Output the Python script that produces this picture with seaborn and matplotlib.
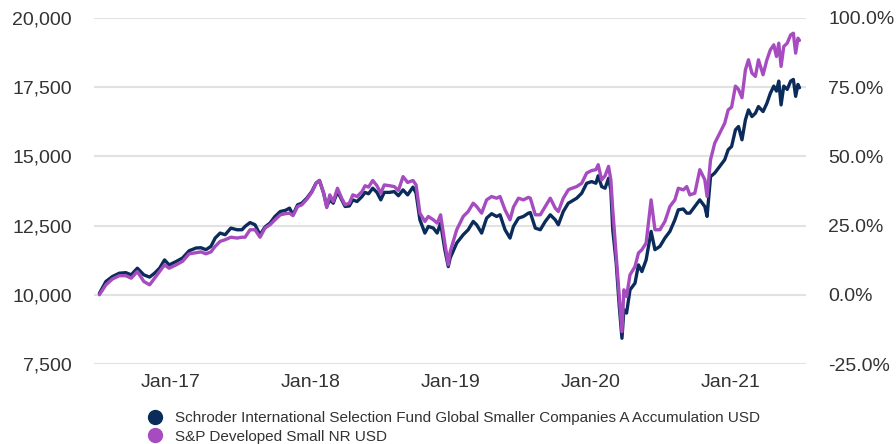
import pandas as pd
import matplotlib
matplotlib.use("Agg")
import matplotlib.pyplot as plt
import matplotlib.dates as mdates
from matplotlib.lines import Line2D
from matplotlib.ticker import FuncFormatter
import seaborn as sns

# =========================
# DATA (growth of 10,000)
# =========================
dates = [
    "2016-06-30", "2016-07-17", "2016-08-03", "2016-08-21", "2016-09-07", "2016-09-21",
    "2016-10-07", "2016-10-24", "2016-11-08", "2016-11-21", "2016-12-04", "2016-12-17",
    "2016-12-29", "2017-01-16", "2017-02-02", "2017-02-19", "2017-03-09", "2017-03-22",
    "2017-04-04", "2017-04-17", "2017-04-28", "2017-05-11", "2017-05-24", "2017-06-08",
    "2017-06-24", "2017-07-07", "2017-07-15", "2017-07-28", "2017-08-10", "2017-08-23",
    "2017-09-05", "2017-09-18", "2017-10-01", "2017-10-15", "2017-10-28", "2017-11-08",
    "2017-11-17", "2017-11-29", "2017-12-10", "2017-12-23", "2018-01-05", "2018-01-16",
    "2018-01-25", "2018-02-05", "2018-02-13", "2018-02-21", "2018-03-02", "2018-03-13",
    "2018-03-24", "2018-04-02", "2018-04-13", "2018-04-22", "2018-05-03", "2018-05-16",
    "2018-05-24", "2018-06-02", "2018-06-13", "2018-06-24", "2018-07-04", "2018-07-13",
    "2018-07-27", "2018-08-08", "2018-08-19", "2018-08-31", "2018-09-12", "2018-09-26",
    "2018-10-04", "2018-10-14", "2018-10-27", "2018-11-05", "2018-11-18", "2018-11-28",
    "2018-12-07", "2018-12-18", "2018-12-27", "2019-01-01", "2019-01-18", "2019-02-04",
    "2019-02-17", "2019-03-02", "2019-03-11", "2019-03-24", "2019-04-06", "2019-04-19",
    "2019-05-02", "2019-05-11", "2019-05-24", "2019-06-06", "2019-06-15", "2019-06-28",
    "2019-07-11", "2019-07-24", "2019-07-29", "2019-08-11", "2019-08-24", "2019-09-06",
    "2019-09-19", "2019-10-02", "2019-10-10", "2019-10-23", "2019-11-05", "2019-11-09",
    "2019-11-27", "2019-12-10", "2019-12-23", "2020-01-05", "2020-01-16", "2020-01-22",
    "2020-01-31", "2020-02-09", "2020-02-18", "2020-02-24", "2020-02-29", "2020-03-09",
    "2020-03-17", "2020-03-24", "2020-03-29", "2020-04-05", "2020-04-14", "2020-04-27",
    "2020-05-06", "2020-05-15", "2020-05-26", "2020-06-08", "2020-06-18", "2020-07-01",
    "2020-07-14", "2020-07-27", "2020-08-09", "2020-08-18", "2020-08-31", "2020-09-09",
    "2020-09-17", "2020-09-30", "2020-10-13", "2020-10-26", "2020-11-01", "2020-11-10",
    "2020-11-21", "2020-12-04", "2020-12-17", "2020-12-26", "2021-01-04", "2021-01-14",
    "2021-01-22", "2021-01-31", "2021-02-09", "2021-02-17", "2021-02-26", "2021-03-07",
    "2021-03-15", "2021-03-27", "2021-04-06", "2021-04-15", "2021-04-24", "2021-05-01",
    "2021-05-07", "2021-05-13", "2021-05-20", "2021-05-29", "2021-06-07", "2021-06-14",
    "2021-06-20", "2021-06-26", "2021-06-30",
]

fund_values = [
    10050, 10480, 10660, 10780, 10800, 10720,
    10960, 10720, 10640, 10780, 10960, 11260,
    11080, 11200, 11330, 11590, 11690, 11700,
    11630, 11750, 12050, 12230, 12170, 12410,
    12350, 12350, 12470, 12610, 12530, 12170,
    12450, 12590, 12830, 13010, 13050, 13130,
    12890, 13250, 13310, 13490, 13730, 14030,
    14130, 13670, 13190, 13430, 13310, 13730,
    13430, 13190, 13210, 13430, 13370, 13550,
    13700, 13650, 13850, 13700, 13430, 13700,
    13700, 13730, 13580, 13790, 13610, 13890,
    13670, 12710, 12230, 12470, 12410, 12230,
    12590, 11630, 11020, 11330, 11870, 12170,
    12350, 12650, 12530, 12230, 12770, 12930,
    12830, 12890, 12350, 12050, 12470, 12770,
    12830, 12950, 12970, 12410, 12350, 12650,
    12890, 12710, 12530, 13010, 13310, 13340,
    13490, 13670, 14030, 14090, 14030, 14300,
    13910, 13850, 14210, 13790, 12350, 11150,
    9580, 8430, 9460, 9340, 10180, 10420,
    11080, 10840, 11260, 12290, 11630, 11750,
    12050, 12290, 12710, 13070, 13100, 12950,
    12950, 13190, 13430, 13190, 12830, 14270,
    14400, 14640, 14880, 15240, 15360, 15960,
    16080, 15600, 16320, 16680, 16440, 16560,
    16800, 16620, 16920, 17280, 17540, 17360,
    17720, 16860, 17540, 17420, 17720, 17780,
    17170, 17600, 17480,
]

index_values = [
    10000, 10360, 10570, 10690, 10690, 10600,
    10840, 10480, 10360, 10600, 10840, 11080,
    10960, 11080, 11210, 11480, 11520, 11550,
    11480, 11550, 11750, 11930, 11990, 12080,
    12050, 12080, 12080, 12350, 12350, 12080,
    12410, 12530, 12710, 12890, 12930, 12950,
    12860, 13190, 13250, 13450, 13700, 14030,
    14130, 13670, 13150, 13610, 13370, 13850,
    13490, 13250, 13310, 13610, 13550, 13730,
    13940, 13890, 14130, 13940, 13670, 13970,
    13940, 13910, 13770, 14270, 14060, 14130,
    13970, 12950, 12650, 12830, 12710, 12590,
    12890, 11870, 11080, 11560, 12350, 12830,
    13010, 13310, 13190, 12950, 13430, 13550,
    13490, 13550, 13070, 12710, 13170, 13490,
    13430, 13520, 13490, 12890, 12890, 13190,
    13490, 13130, 13010, 13490, 13790, 13820,
    13910, 14030, 14400, 14490, 14520, 14700,
    14150, 14300, 14640, 14150, 13070, 11390,
    9940, 8670, 10180, 9940, 10720, 11020,
    11510, 11630, 11870, 13430, 12350, 12350,
    12650, 13190, 13430, 13850, 13790, 13910,
    13610, 13670, 14520, 14160, 13550, 14880,
    15480, 15840, 16200, 16680, 16780, 17540,
    17420, 17120, 18130, 18490, 18010, 17890,
    18490, 17950, 18490, 18850, 19030, 18610,
    19090, 18250, 18970, 19090, 19390, 19450,
    18730, 19270, 19190,
]

series_names = [
    "Schroder International Selection Fund Global Smaller Companies A Accumulation USD",
    "S&P Developed Small NR USD",
]
series_colors = ["#0b2c5a", "#a64cc0"]

left_ticks = [7500, 10000, 12500, 15000, 17500, 20000]
right_ticks = [-0.25, 0.0, 0.25, 0.50, 0.75, 1.00]

# =========================
# BUILD LONG TABLE
# =========================
wide = pd.DataFrame({
    "Date": pd.to_datetime(dates),
    series_names[0]: fund_values,
    series_names[1]: index_values,
})

long = wide.melt(id_vars="Date", var_name="Series", value_name="Value")

# =========================
# STYLE
# =========================
sns.set_style("white")
plt.rcParams["font.family"] = ["Liberation Sans", "DejaVu Sans"]

text_color = "#333333"

fig = plt.figure(figsize=(8.96, 4.44), dpi=100)
ax = fig.add_axes([94 / 896, 1 - 364 / 444, 712 / 896, 346 / 444])

sns.lineplot(
    data=long,
    x="Date",
    y="Value",
    hue="Series",
    hue_order=series_names,
    palette=series_colors,
    linewidth=2.4,
    legend=False,
    ax=ax,
)

# =========================
# AXES
# =========================
ax.set_ylim(7500, 20000)
ax.set_yticks(left_ticks)
ax.yaxis.set_major_formatter(FuncFormatter(lambda v, p: f"{v:,.0f}"))

ax.set_xlim(pd.Timestamp("2016-06-16"), pd.Timestamp("2021-07-17"))
ax.xaxis.set_major_locator(mdates.YearLocator())
ax.xaxis.set_major_formatter(mdates.DateFormatter("%b-%y"))

ax.grid(axis="y", color="#e2e2e2", linewidth=1.5)
ax.grid(axis="x", visible=False)
ax.set_axisbelow(True)

for spine in ax.spines.values():
    spine.set_visible(False)

ax.tick_params(axis="y", length=0, pad=16, labelsize=14, labelcolor=text_color)
ax.tick_params(axis="x", length=0, pad=7, labelsize=14, labelcolor=text_color)
ax.set_xlabel("")
ax.set_ylabel("")

ax2 = ax.twinx()
ax2.set_ylim(-0.25, 1.0)
ax2.set_yticks(right_ticks)
ax2.yaxis.set_major_formatter(FuncFormatter(lambda v, p: f"{v * 100:.1f}%"))
ax2.grid(False)
for spine in ax2.spines.values():
    spine.set_visible(False)
ax2.tick_params(axis="y", length=0, pad=16, labelsize=14, labelcolor=text_color)

# =========================
# LEGEND
# =========================
handles = [
    Line2D([], [], marker="o", linestyle="", markersize=10, color=c)
    for c in series_colors
]

fig.legend(
    handles,
    series_names,
    loc="upper left",
    bbox_to_anchor=(147 / 896, 1 - 411 / 444),
    frameon=False,
    fontsize=11,
    labelcolor=text_color,
    handlelength=1.0,
    handletextpad=0.85,
    labelspacing=0.3,
    borderpad=0,
    borderaxespad=0,
)

fig.savefig("out.png", dpi=100)
plt.close(fig)
